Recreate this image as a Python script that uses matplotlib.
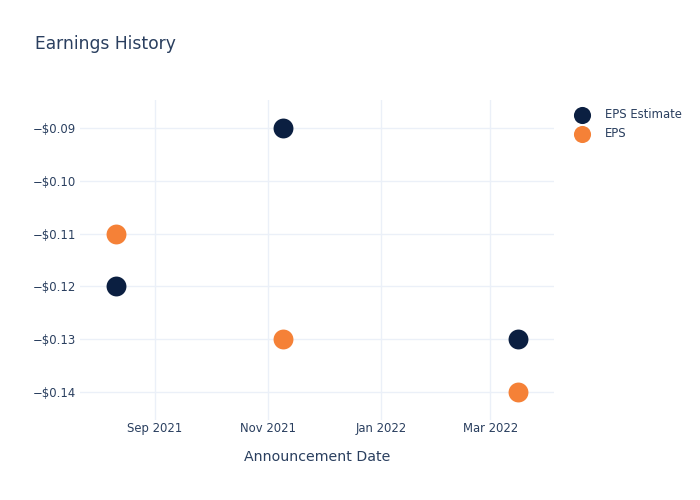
import matplotlib
matplotlib.use('Agg')
import matplotlib.pyplot as plt
import matplotlib.dates as mdates
from matplotlib.ticker import FuncFormatter, MultipleLocator
import numpy as np
import pandas as pd

# Data
dates = pd.to_datetime(['2021-08-11', '2021-11-09', '2022-03-16'])
eps_estimate = [-0.12, -0.09, -0.13]
eps_actual = [-0.11, -0.13, -0.14]

text_color = '#2a3f5f'
grid_color = '#ebf0f8'
navy = '#0b1f41'
orange = '#f58137'

fig = plt.figure(figsize=(7, 5), dpi=100)
ax = fig.add_axes([80 / 700, 80 / 500, 474 / 700, 320 / 500])

ax.scatter(dates, eps_estimate, s=205, color=navy, label='EPS Estimate', zorder=3, linewidths=0)
ax.scatter(dates, eps_actual, s=205, color=orange, label='EPS', zorder=3, linewidths=0)

pad = pd.Timedelta(days=19.5)
ax.set_xlim(dates.min() - pad, dates.max() + pad)
ax.set_ylim(-0.1454, -0.0846)

ax.xaxis.set_major_locator(mdates.MonthLocator(bymonth=[1, 3, 5, 7, 9, 11]))
ax.xaxis.set_major_formatter(mdates.DateFormatter('%b %Y'))
ax.yaxis.set_major_locator(MultipleLocator(0.01))
ax.yaxis.set_major_formatter(FuncFormatter(
    lambda v, p: f'\u2212${abs(v):.2f}' if v < 0 else f'${v:.2f}'))

for s in ax.spines.values():
    s.set_visible(False)
ax.grid(True, color=grid_color, linewidth=1)
ax.set_axisbelow(True)
ax.tick_params(length=0, labelsize=8.4, colors=text_color)
ax.tick_params(axis='x', pad=1.5)
ax.tick_params(axis='y', pad=3)

ax.set_xlabel('Announcement Date', fontsize=10.2, color=text_color, labelpad=11)
fig.text(35 / 700, 1 - 44 / 500, 'Earnings History', fontsize=12.3,
         color=text_color, va='center', ha='left')

fig.legend(loc='upper left', bbox_to_anchor=(570 / 700, 1 - 108 / 500),
           frameon=False, fontsize=8.4, labelcolor=text_color,
           handletextpad=1.0, labelspacing=0.55, markerscale=0.86,
           borderaxespad=0, borderpad=0)

fig.savefig('out.png', dpi=100)
